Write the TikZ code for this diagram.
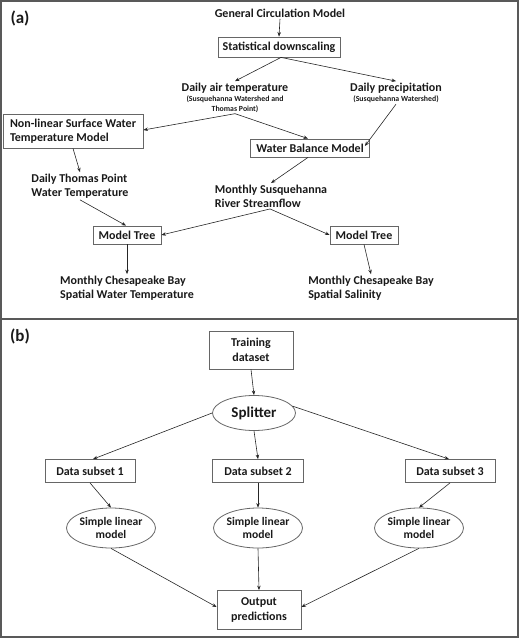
\documentclass[tikz,border=0pt]{standalone}
\usepackage{fontspec}
\setmainfont{Carlito}
\usetikzlibrary{arrows.meta,shapes.geometric}
\begin{document}
\begin{tikzpicture}[x=1pt,y=-1pt,
  txt/.style={font=\fontsize{12}{14}\selectfont\bfseries, inner sep=1.5pt, text=black!90},
  small/.style={font=\fontsize{7.8}{10}\selectfont\bfseries, inner sep=1pt, text=black!90},
  box/.style={txt, draw=black!60, line width=0.8pt, inner sep=2pt},
  ell/.style={txt, draw=black!60, line width=0.8pt, ellipse, inner sep=0pt},
  arr/.style={-{Stealth[length=4.5pt,width=3.5pt]}, line width=0.6pt, draw=black!85},
  lab/.style={font=\fontsize{17}{20}\selectfont\bfseries, text=black!90}
]
\useasboundingbox (0,0) rectangle (520,639);
\draw[black!65, line width=1.2pt] (1,1) rectangle (518,637);
\draw[black!65, line width=1.2pt] (1,319) -- (518,319);

% ---------- panel (a)
\node[lab] (la) at (20,18) {(a)};
\node[txt] (gcm) at (280,13) {General Circulation Model};
\node[box, minimum width=122pt, minimum height=20pt] (sd) at (279,47) {Statistical downscaling};
\node[txt] (dat) at (235,88) {Daily air temperature};
\node[small, align=center] (datsub) at (235,104) {(Susquehanna Watershed and\\Thomas Point)};
\node[txt] (dp) at (396,88) {Daily precipitation};
\node[small] (dpsub) at (396,99.5) {(Susquehanna Watershed)};
\node[box, align=left, minimum width=140pt, minimum height=34pt] (nl) at (73,131) {Non-linear Surface Water\\Temperature Model};
\node[box, minimum width=119pt, minimum height=18pt] (wbm) at (310,148) {Water Balance Model};
\node[txt, align=left] (dtp) at (80,186) {Daily Thomas Point\\Water Temperature};
\node[txt, align=left] (msr) at (271,196) {Monthly Susquehanna\\River Streamflow};
\node[box, minimum width=68pt, minimum height=18pt] (mt1) at (127,235) {Model Tree};
\node[box, minimum width=68pt, minimum height=18pt] (mt2) at (364,235) {Model Tree};
\node[txt, align=left] (mcw) at (127,288) {Monthly Chesapeake Bay\\Spatial Water Temperature};
\node[txt, align=left] (mcs) at (371,288) {Monthly Chesapeake Bay\\Spatial Salinity};

\draw[arr] (gcm.south) -- (sd.north);
\draw[arr] ([xshift=2pt]sd.south) -- (dat.north);
\draw[arr] ([xshift=2pt]sd.south) -- (dp.north);
\draw[arr] (datsub.south) -- ([yshift=1pt]nl.east);
\draw[arr] (datsub.south) -- ([xshift=-2pt]wbm.north);
\draw[arr] (dpsub.south) -- ([xshift=-5pt,yshift=2pt]wbm.east);
\draw[arr] ([yshift=0pt]nl.south) -- (dtp.north);
\draw[arr] ([xshift=-2pt]wbm.south) -- (msr.north);
\draw[arr] (dtp.south) -- ([xshift=-1pt]mt1.north);
\draw[arr] ([xshift=-1pt]msr.south) -- (mt1.east);
\draw[arr] ([xshift=-1pt]msr.south) -- (mt2.west);
\draw[arr] (mt1.south) -- (mcw.north);
\draw[arr] (mt2.south) -- (mcs.north);

% ---------- panel (b)
\node[lab] (lb) at (20,336) {(b)};
\node[box, align=center, minimum width=84pt, minimum height=38pt, font=\fontsize{12}{15}\selectfont\bfseries] (td) at (251,350) {Training\\dataset};
\node[ell, minimum width=83pt, minimum height=35pt, font=\fontsize{15}{17}\selectfont\bfseries] (sp) at (254,413) {Splitter};
\node[box, minimum width=90pt, minimum height=23pt] (ds1) at (90,471) {Data subset 1};
\node[box, minimum width=91pt, minimum height=23pt] (ds2) at (258,471) {Data subset 2};
\node[box, minimum width=90pt, minimum height=23pt] (ds3) at (450,471) {Data subset 3};
\node[ell, align=center, minimum width=84pt, minimum height=40pt, font=\fontsize{11.6}{13.5}\selectfont\bfseries] (s1) at (111,528) {Simple linear\\model};
\node[ell, align=center, minimum width=84pt, minimum height=40pt, font=\fontsize{11.6}{13.5}\selectfont\bfseries] (s2) at (258,528) {Simple linear\\model};
\node[ell, align=center, minimum width=84pt, minimum height=40pt, font=\fontsize{11.6}{13.5}\selectfont\bfseries] (s3) at (419,528) {Simple linear\\model};
\node[box, align=center, minimum width=84pt, minimum height=39pt, font=\fontsize{12}{15}\selectfont\bfseries] (op) at (259,610) {Output\\predictions};

\draw[arr] (td.south) -- (sp.north);
\draw[arr] (sp.west) -- ([xshift=3pt]ds1.north);
\draw[arr] (sp.south) -- (ds2.north);
\draw[arr] (sp.10) -- ([xshift=-1pt]ds3.north);
\draw[arr] (ds1.south) -- (s1.north);
\draw[arr] (ds2.south) -- (s2.north);
\draw[arr] (ds3.south) -- (s3.north);
\draw[arr] (s1.south) -- ([yshift=3pt]op.west);
\draw[arr] (s2.south) -- (op.north);
\draw[arr] (s3.south) -- ([yshift=3pt]op.east);
\end{tikzpicture}
\end{document}
